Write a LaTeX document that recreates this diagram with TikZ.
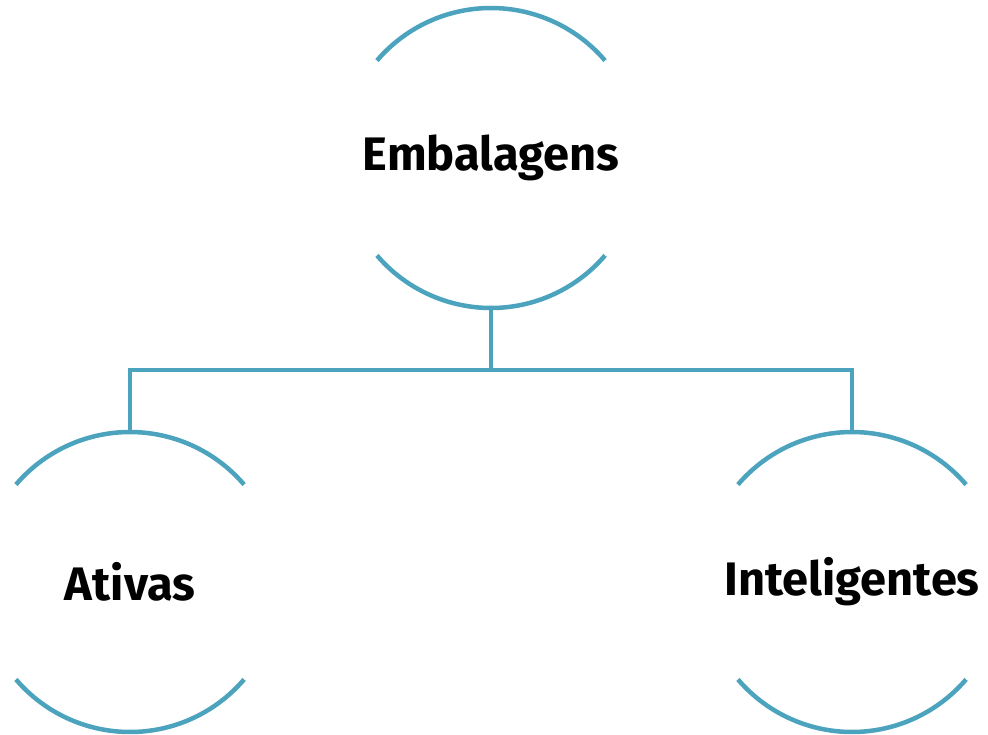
\documentclass[tikz,border=0pt]{standalone}
\usepackage{fontspec}
\setmainfont{Fira Sans}
\definecolor{teal1}{HTML}{4BA3BD}
\begin{document}
\begin{tikzpicture}[x=1pt,y=-1pt,
  hub/.style={circle,draw=none,minimum size=300pt,inner sep=0pt},
  arcline/.style={draw=teal1,line width=4.5pt},
  conn/.style={draw=teal1,line width=4.5pt},
  lbl/.style={font=\fontsize{47}{50}\selectfont\bfseries,text=black,inner sep=0pt}]
\useasboundingbox (0,0) rectangle (988,734);
\node[hub] (top) at (491,158) {};
\node[hub] (left) at (130,582) {};
\node[hub] (right) at (852,582) {};
\foreach \n in {top,left,right}{
  \draw[arcline] (\n.center) ++(40.5:150pt) arc[start angle=40.5,end angle=139.5,radius=150pt];
  \draw[arcline] (\n.center) ++(220.5:150pt) arc[start angle=220.5,end angle=319.5,radius=150pt];
}
\coordinate (mid) at (491,370);
\draw[conn] (top.south) -- (mid);
\draw[conn] (mid) -| (left.north);
\draw[conn] (mid) -| (right.north);
\node[lbl] (t1) at (top.center) {Embalagens};
\node[lbl] (t2) at (left.center) {Ativas};
\node[lbl] (t3) at (right.center) {Inteligentes};
\end{tikzpicture}
\end{document}
